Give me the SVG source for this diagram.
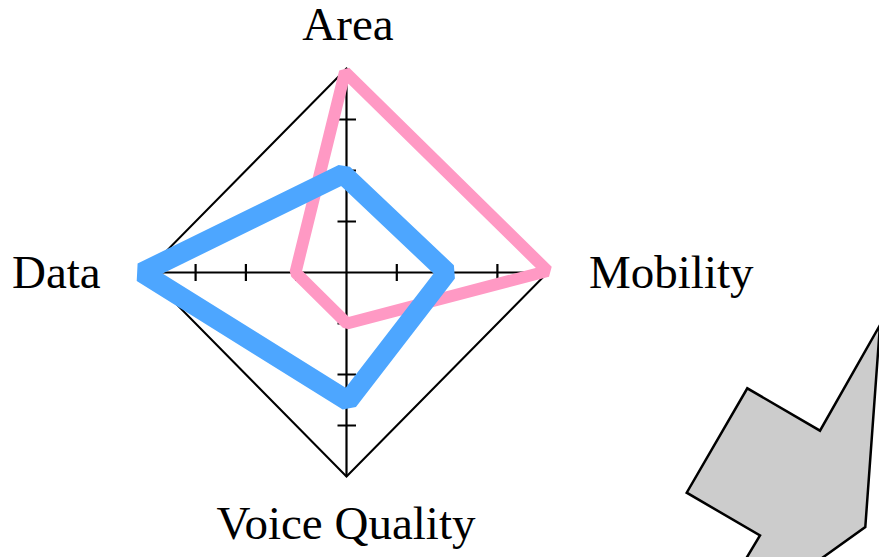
<svg xmlns="http://www.w3.org/2000/svg" width="879" height="557" viewBox="0 0 879 557">
<style>
.lbl{font-family:"Liberation Serif","Times New Roman",serif;font-size:47px;fill:#000}
.ax{stroke:#000;stroke-width:2.2;fill:none}
.dia{stroke:#000;stroke-width:2;fill:none}
.poly{fill:none;stroke-linejoin:bevel}
</style>
<rect width="879" height="557" fill="#fff"/>
<g id="frame">
<polygon class="dia" points="346.5,68.5 547.7,272.5 346.5,476.5 145.3,272.5"/>
</g>
<g id="axes">
<line class="ax" x1="145.3" y1="272.5" x2="547.7" y2="272.5"/>
<line class="ax" x1="346.5" y1="68.5" x2="346.5" y2="476.5"/>
<path class="ax" d="M195.6,264V281 M245.9,264V281 M296.2,264V281 M396.8,264V281 M447.1,264V281 M497.4,264V281 M337.5,119.5H356 M337.5,170.5H356 M337.5,221.5H356 M337.5,323.5H356 M337.5,374.5H356 M337.5,425.5H356"/>
</g>
<g id="series-pink">
<polygon class="poly" stroke="#ff99c4" stroke-width="12" points="345,72 547.5,271 347,323.5 295.5,272.5"/>
</g>
<g id="series-blue">
<polygon class="poly" stroke="#4da6ff" stroke-width="20" points="343,174 447,272.5 348,401 142,272.5"/>
</g>
<g id="labels">
<text class="lbl" x="348" y="40" text-anchor="middle">Area</text>
<text class="lbl" x="12" y="288">Data</text>
<text class="lbl" x="589" y="288">Mobility</text>
<text class="lbl" x="346" y="539" text-anchor="middle">Voice Quality</text>
</g>
<g id="shape">
<polygon fill="#cccccc" stroke="#000" stroke-width="2.5" stroke-linejoin="miter" points="880,325 820,430.7 747.3,388.3 686.7,492.7 760,535.5 735,577 790,581 865.3,527"/>
</g>
</svg>
